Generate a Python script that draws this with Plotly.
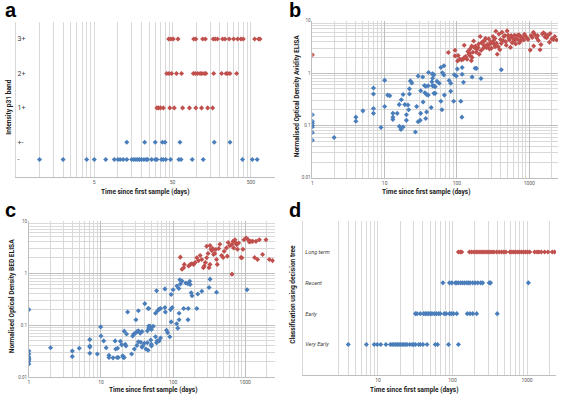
import math
import plotly.graph_objects as go

W, H = 567, 400
BLUE = "#4A7EBB"
RED = "#C0504D"
GRID = "#D9D9D9"
GRID_MAJ = "#BFBFBF"
TXT = "#404040"

# ---------------- Panel a: p31 band intensity ----------------
band_labels = ["-", "+-", "1+", "2+", "3+"]
band_levels = [0, 0.5, 1.5, 2.5, 3.5]
a_neg = [1, 2, 4, 5, 7, 9, 10, 10.7, 11.7, 13, 15, 16, 17, 18, 19, 20, 21.5, 23, 24, 27,
         30, 31.5, 36, 38, 41, 47, 60, 64, 89, 123, 390, 520, 600]
a_pm = [13, 22, 30, 37, 40, 62, 170, 270]
a_1p = [31.5, 33, 35, 38, 46, 52.5, 67, 82, 99, 117, 140, 162]
a_2p = [42, 45, 48.5, 56, 65, 92, 97, 104, 112, 118, 127, 133, 167, 211, 240, 252, 270, 328]
a_3p = [44.5, 47.6, 51, 58.5, 93, 99, 121, 131, 165, 175, 187, 217, 233, 264, 300, 338,
        372, 399, 557, 627, 652]

# ---------------- Panel b: avidity ELISA (days, OD) ----------------
b_blue = [(1, 0.16), (1, 0.12), (1, 0.11), (1, 0.10), (1, 0.093), (1, 0.073), (1, 0.052),
          (2, 0.059), (4, 0.144), (4, 0.12), (5, 0.19), (7, 0.52), (7, 0.40), (7, 0.21), (7, 0.17),
          (8.9, 0.091), (10, 0.73), (10, 0.23), (11, 0.38), (11.8, 0.37), (13, 0.17), (13, 0.144),
          (13, 0.13), (14.9, 0.17), (15.9, 0.25), (16, 0.096), (16.8, 0.084), (18, 0.093), (17, 0.31),
          (18, 0.39), (19, 0.25), (21, 0.245), (20, 0.16), (20, 0.125), (21.5, 0.20), (22, 0.40),
          (22, 0.50), (22.7, 0.71), (23.7, 0.65), (26.6, 0.075), (27.7, 0.23), (29, 0.88), (29, 0.118),
          (31, 0.125), (31.5, 0.17), (31.5, 0.46), (33.6, 0.84), (34, 0.28), (35.5, 0.58), (37, 0.56),
          (36, 0.42), (38, 0.39), (40, 0.38), (37, 0.136), (38, 0.18), (40.5, 1.03), (40, 0.57),
          (46, 0.97), (46, 0.57), (48, 0.41), (44, 0.22), (46, 0.95), (48, 0.93), (46, 0.80),
          (45, 0.68), (48, 0.57), (50, 0.55), (50, 0.41), (53, 0.70), (57, 0.64), (60, 1.28),
          (66, 1.38), (63, 1.01), (66, 0.92), (60, 0.29), (62, 0.20), (67, 0.38), (78, 0.72),
          (82, 0.64), (82, 0.45), (92, 0.93), (98, 0.88), (101, 1.20), (90, 0.29), (113, 0.29),
          (117, 0.144), (118, 1.28), (118, 0.95), (123, 0.67), (162, 0.84), (178, 1.24), (186, 1.23),
          (215, 0.79), (410, 1.16)]
b_red = [(1, 2.23), (76, 2.47), (94, 2.73), (94, 2.13), (102, 1.71), (104, 2.16), (110, 1.84),
         (116, 1.79), (122, 1.84), (126, 3.4), (126, 1.98), (132, 2.07), (138, 1.84), (142, 2.6),
         (146, 2.3), (150, 2.4), (155, 2.1), (158, 1.72), (162, 1.98), (166, 2.5), (170, 4.1),
         (174, 3.07), (180, 3.3), (188, 2.86), (196, 3.07), (203, 2.3), (210, 5.0), (220, 3.8),
         (228, 4.0), (236, 3.4), (240, 4.1), (255, 3.07), (270, 3.3), (275, 4.5), (285, 3.6),
         (292, 3.9), (300, 3.0), (315, 5.0), (322, 4.2), (330, 3.5), (338, 3.2), (345, 6.3),
         (352, 3.7), (361, 2.3), (380, 5.6), (392, 2.8), (400, 4.4), (420, 6.0), (445, 5.0),
         (460, 5.2), (480, 3.4), (494, 6.4), (510, 5.3), (530, 4.3), (549, 3.1), (560, 5.2),
         (580, 3.8), (600, 4.6), (625, 5.3), (650, 3.6), (680, 5.2), (700, 4.4), (730, 3.8),
         (750, 5.0), (780, 4.9), (800, 4.7), (840, 4.3), (880, 5.1), (930, 4.7), (1030, 2.75),
         (1060, 5.2), (1100, 4.8), (1140, 6.0), (1200, 5.4), (1270, 4.7), (1340, 4.2), (1410, 2.8),
         (1450, 3.5), (1520, 5.6), (1570, 5.9), (1650, 5.6), (1740, 4.75), (1800, 5.2), (1940, 5.7),
         (2050, 4.5), (2160, 4.4), (2390, 4.3), (152, 2.9), (160, 3.3), (185, 2.5), (200, 3.6),
         (215, 2.7), (232, 3.0), (248, 4.6), (262, 3.5), (282, 2.9), (310, 3.8), (335, 4.6),
         (372, 3.2), (410, 3.7), (435, 4.2), (470, 4.0), (520, 4.7), (570, 4.9), (615, 4.1),
         (660, 4.5), (720, 5.4), (770, 4.2), (860, 5.5), (960, 4.4), (1300, 5.2), (1650, 4.9),
         (2250, 5.0), (1900, 3.9), (1150, 3.3)]

# ---------------- Panel c: BED ELISA (days, OD) ----------------
c_blue = [(1, 0.2), (1, 0.032), (1, 0.028), (1, 0.0245), (1, 0.0226), (1, 0.0217), (1, 0.0202),
          (1, 0.018), (2.0, 0.037), (4.0, 0.032), (4.0, 0.025), (5.0, 0.036), (7, 0.053), (7, 0.04),
          (7, 0.038), (7, 0.029), (8.9, 0.028), (9.9, 0.093), (10, 0.062), (10.9, 0.05), (11.8, 0.037),
          (12.9, 0.0265), (12.9, 0.024), (14.7, 0.0236), (15.7, 0.05), (16, 0.035), (16.7, 0.024),
          (17.4, 0.024), (17, 0.036), (18.6, 0.049), (19.4, 0.042), (20, 0.026), (20.4, 0.024),
          (21, 0.024), (21.7, 0.043), (22.2, 0.040), (21, 0.077), (23.4, 0.18), (22.6, 0.068),
          (26.6, 0.028), (27.5, 0.062), (28.5, 0.068), (29, 0.035), (31.5, 0.041), (30, 0.07),
          (31.5, 0.076), (33, 0.078), (30.5, 0.128), (33, 0.048), (33, 0.19), (35, 0.07), (37, 0.076),
          (35.5, 0.047), (38, 0.04), (37, 0.038), (40, 0.045), (42, 0.035), (40.5, 0.26), (45, 0.21),
          (46, 0.097), (48, 0.088), (44, 0.078), (46, 0.088), (48, 0.096), (50, 0.083), (53, 0.096),
          (44, 0.046), (49, 0.052), (50, 0.043), (57, 0.06), (60, 0.05), (64, 0.05), (45, 0.033),
          (50, 0.04), (59, 0.046), (67, 0.057), (46, 0.21), (57, 0.17), (61, 0.19), (64, 0.205),
          (67, 0.21), (77, 0.22), (78, 0.18), (92, 0.2), (97, 0.22), (94, 0.116), (112, 0.107),
          (116, 0.088), (81, 0.08), (84, 0.072), (90, 0.06), (121, 0.128), (121, 0.17), (140, 0.21),
          (162, 0.21), (161, 0.128), (213, 0.21), (59, 0.46), (77, 0.5), (94, 0.39), (100, 0.48),
          (113, 0.57), (120, 0.51), (126, 0.62), (133, 0.71), (124, 0.75), (150, 0.65), (160, 0.63),
          (170, 0.7), (172, 0.61), (183, 0.37), (178, 0.42), (220, 0.4), (250, 0.45), (315, 0.53),
          (400, 0.43), (325, 0.77), (1060, 0.48)]
c_red = [(126, 2.04), (133, 1.19), (140, 1.28), (143, 1.48), (164, 1.38), (173, 1.48), (182, 1.52),
         (192, 1.48), (202, 1.6), (213, 1.98), (225, 1.75), (237, 2.2), (250, 1.84), (263, 1.28),
         (270, 1.38), (280, 1.6), (292, 1.98), (305, 2.4), (315, 1.28), (325, 1.48), (292, 3.3),
         (325, 3.4), (335, 2.9), (345, 2.7), (355, 3.0), (365, 2.3), (378, 2.4), (390, 2.86),
         (400, 1.84), (410, 1.48), (430, 3.0), (445, 3.6), (470, 2.2), (494, 2.0), (510, 2.65),
         (549, 3.07), (565, 2.13), (580, 3.9), (610, 3.4), (650, 3.55), (680, 4.1), (690, 3.07),
         (720, 4.4), (740, 3.8), (760, 3.55), (780, 2.9), (810, 3.8), (870, 2.0), (900, 1.98),
         (930, 2.9), (960, 4.4), (1030, 4.75), (1100, 4.4), (1140, 4.0), (1200, 4.1), (1270, 4.1),
         (1350, 2.0), (1410, 4.1), (1480, 1.84), (1570, 4.4), (1740, 2.3), (1940, 4.4), (2160, 1.84),
         (2390, 1.75), (655, 0.96)]

# ---------------- Panel d: decision tree classification ----------------
class_labels = ["Very Early", "Early", "Recent", "Long term"]
class_levels = [1, 2, 3, 4]
d_very_early = [4, 7, 8.9, 9.8, 10.9, 12.8, 14.7, 15.5, 16.3, 17.2, 18.1, 19.1, 20, 21.1, 22.2,
                23.4, 24.6, 26.7, 28.7, 30.2, 31.8, 35.2, 37, 40.2, 45.5, 58.7, 63, 88.5, 120]
d_early = [31.8, 33.5, 37, 41, 43.2, 45.5, 47.9, 50.4, 53, 57, 60.6, 65, 68.5, 77.4, 82.3, 91.2,
           96, 103, 114, 158, 172, 187, 211, 398]
d_recent = [74.3, 91, 98, 109, 114, 120, 129, 137, 145, 155, 163, 172, 187, 201, 218, 239, 254,
            311, 324, 1042]
d_long = [120, 127, 133, 169, 181, 194, 207, 220, 234, 249, 264, 281, 299, 318, 338, 359, 390, 423,
          455, 489, 520, 588, 625, 664, 706, 751, 798, 849, 903, 960, 1020, 1086, 1266, 1360, 1445,
          1553, 1721, 1907, 2178, 2340]

x_title = "Time since first sample (days)"


def px(x):
    return x / W


def py(y):
    return 1 - y / H


def log_grid(lo_exp, hi_exp, mults, lo=None, hi=None):
    vals = []
    for e in range(lo_exp, hi_exp + 1):
        for m in mults:
            v = m * 10 ** e
            if (lo is None or v >= lo * 0.999) and (hi is None or v <= hi * 1.001):
                vals.append(v)
    return vals


mk = dict(symbol="diamond", size=3.9, line=dict(width=0))
fig = go.Figure()

# panel a traces
for vals, lvl, col in [(a_neg, 0, BLUE), (a_pm, 1, BLUE), (a_1p, 2, RED), (a_2p, 3, RED), (a_3p, 4, RED)]:
    fig.add_trace(go.Scatter(x=vals, y=[band_levels[lvl]] * len(vals), mode="markers",
                             marker=dict(mk, color=col), xaxis="x", yaxis="y"))

# panel b
fig.add_trace(go.Scatter(x=[p[0] for p in b_blue], y=[p[1] for p in b_blue], mode="markers",
                         marker=dict(mk, color=BLUE), xaxis="x2", yaxis="y2"))
fig.add_trace(go.Scatter(x=[p[0] for p in b_red], y=[p[1] for p in b_red], mode="markers",
                         marker=dict(mk, color=RED), xaxis="x2", yaxis="y2"))
# panel c
fig.add_trace(go.Scatter(x=[p[0] for p in c_blue], y=[p[1] for p in c_blue], mode="markers",
                         marker=dict(mk, color=BLUE), xaxis="x3", yaxis="y3"))
fig.add_trace(go.Scatter(x=[p[0] for p in c_red], y=[p[1] for p in c_red], mode="markers",
                         marker=dict(mk, color=RED), xaxis="x3", yaxis="y3"))
# panel d
for vals, lvl, col in [(d_very_early, 0, BLUE), (d_early, 1, BLUE), (d_recent, 2, BLUE), (d_long, 3, RED)]:
    fig.add_trace(go.Scatter(x=vals, y=[class_levels[lvl]] * len(vals), mode="markers",
                             marker=dict(mk, color=col), xaxis="x4", yaxis="y4"))

tickf = dict(family="Roboto", size=5, color="#595959")

# axis a
a_grid = log_grid(-1, 2, [5, 10, 15, 20, 25, 30, 35, 40, 45], lo=0.5, hi=1000)
a_lab = {0.5: "0.5", 5: "5", 50: "50", 500: "500"}
fig.update_layout(
    xaxis=dict(domain=[px(13), px(273)], anchor="y", type="log",
               range=[math.log10(0.5), math.log10(1000)],
               tickmode="array", tickvals=a_grid,
               ticktext=[a_lab.get(round(v, 3), "") for v in a_grid],
               showgrid=True, gridcolor=GRID, gridwidth=1, ticks="", tickfont=tickf,
               showline=True, linecolor=GRID_MAJ, linewidth=1, zeroline=False),
    yaxis=dict(domain=[py(177), py(20)], anchor="x", range=[-0.5, 4],
               tickmode="array", tickvals=band_levels, ticktext=band_labels,
               ticklabelposition="inside", showgrid=False, zeroline=False, ticks="",
               tickfont=dict(family="Roboto", size=7, color=TXT),
               showline=True, linecolor=GRID, linewidth=1),
)

dec_b = [1, 10, 100, 1000]
fig.update_layout(
    xaxis2=dict(domain=[px(311), px(558)], anchor="y2", type="log",
                range=[0, math.log10(2500)], tickmode="array", tickvals=dec_b,
                ticktext=[str(v) for v in dec_b], showgrid=True, gridcolor=GRID_MAJ,
                minor=dict(tickvals=log_grid(0, 3, range(2, 10), hi=2500), showgrid=True,
                           gridcolor=GRID, ticks=""),
                ticks="", tickfont=tickf, showline=True, linecolor=GRID_MAJ, zeroline=False),
    yaxis2=dict(domain=[py(178), py(19)], anchor="x2", type="log", range=[-2, 1],
                tickmode="array", tickvals=[0.01, 0.1, 1, 10], ticktext=["0.01", "0.1", "1", "10"],
                showgrid=True, gridcolor=GRID_MAJ,
                minor=dict(tickvals=log_grid(-2, 0, range(2, 10)), showgrid=True,
                           gridcolor=GRID, ticks=""),
                ticks="", tickfont=dict(tickf, size=4.5), showline=True, linecolor=GRID_MAJ,
                zeroline=False),
    xaxis3=dict(domain=[px(26), px(273)], anchor="y3", type="log",
                range=[0, math.log10(2550)], tickmode="array", tickvals=dec_b,
                ticktext=[str(v) for v in dec_b], showgrid=True, gridcolor=GRID_MAJ,
                minor=dict(tickvals=log_grid(0, 3, range(2, 10), hi=2550), showgrid=True,
                           gridcolor=GRID, ticks=""),
                ticks="", tickfont=tickf, showline=True, linecolor=GRID_MAJ, zeroline=False),
    yaxis3=dict(domain=[py(380), py(222)], anchor="x3", type="log", range=[-2, 1],
                tickmode="array", tickvals=[0.01, 0.1, 1, 10], ticktext=["0.01", "0.1", "1", "10"],
                showgrid=True, gridcolor=GRID_MAJ,
                minor=dict(tickvals=log_grid(-2, 0, range(2, 10)), showgrid=True,
                           gridcolor=GRID, ticks=""),
                ticks="", tickfont=dict(tickf, size=4.5), showline=True, linecolor=GRID_MAJ,
                zeroline=False),
)

d_grid = log_grid(0, 3, range(1, 10), hi=2450)
fig.update_layout(
    xaxis4=dict(domain=[px(302), px(556)], anchor="y4", type="log",
                range=[0, math.log10(2450)], tickmode="array", tickvals=d_grid,
                ticktext=[str(v) if v in dec_b else "" for v in d_grid],
                showgrid=True, gridcolor=GRID, ticks="", tickfont=tickf,
                showline=True, linecolor=GRID_MAJ, zeroline=False),
    yaxis4=dict(domain=[py(378), py(222)], anchor="x4", range=[0, 5],
                tickmode="array", tickvals=class_levels, ticktext=class_labels,
                ticklabelposition="inside", showgrid=False, zeroline=False, ticks="",
                tickfont=dict(family="Roboto", size=5.5, color=TXT, style="italic"),
                showline=True, linecolor=GRID, linewidth=1),
)

ann = []
tf = dict(family="Roboto", size=6.6, color="#1a1a1a")
# x titles
for cx, cy in [(143, 192), (425, 192), (151, 393), (413, 393)]:
    ann.append(dict(text="<b>" + x_title + "</b>", x=px(cx), y=py(cy), xref="paper", yref="paper",
                    showarrow=False, font=dict(tf, size=6.5), xanchor="center", yanchor="middle"))
# y titles
for txt, cx, cy in [("Intensity p31 band", 6, 106), ("Normalised Optical Density Avidity ELISA", 295, 95),
                    ("Normalised Optical Density BED ELISA", 9, 298),
                    ("Classification using decision tree", 292, 296)]:
    ann.append(dict(text="<b>" + txt + "</b>", x=px(cx), y=py(cy), xref="paper", yref="paper",
                    showarrow=False, textangle=-90, font=tf, xanchor="center", yanchor="middle"))
# panel letters
for let, cx, cy in [("a", 8, 8), ("b", 294, 8), ("c", 8, 211), ("d", 294, 211)]:
    ann.append(dict(text="<b>" + let + "</b>", x=px(cx), y=py(cy), xref="paper", yref="paper",
                    showarrow=False, font=dict(family="Liberation Sans", size=20, color="#000000"),
                    xanchor="center", yanchor="middle"))

fig.update_layout(width=W, height=H, margin=dict(l=0, r=0, t=0, b=0),
                  paper_bgcolor="white", plot_bgcolor="white", showlegend=False,
                  annotations=ann)

fig.write_html("out.html", config={"displayModeBar": False},
               post_script="document.body.style.margin='0';document.body.style.overflow='hidden';")
